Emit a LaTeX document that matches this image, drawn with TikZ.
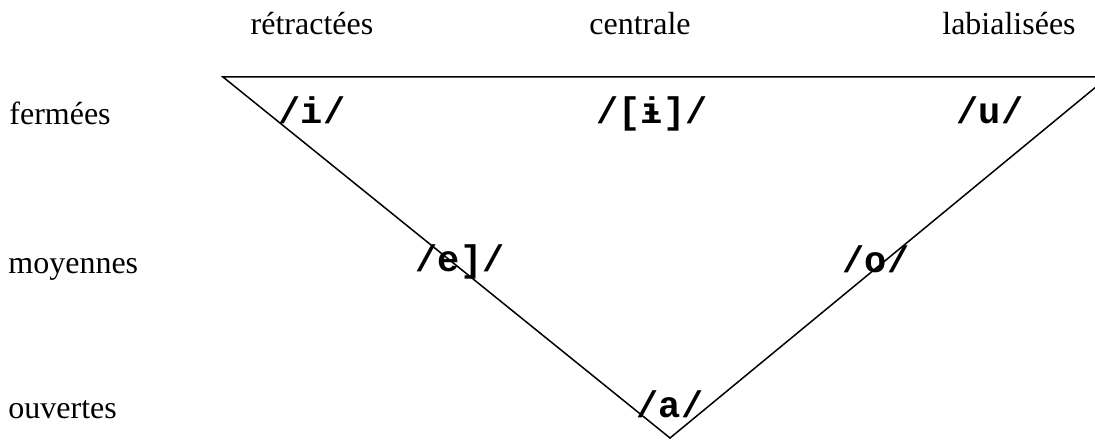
\documentclass[tikz,border=0pt]{standalone}
\usepackage{fontspec}
\setmainfont{Liberation Serif}
\newfontfamily\phonfont{Liberation Mono}
\usetikzlibrary{positioning}

\begin{document}
\begin{tikzpicture}[x=0.5pt, y=-0.5pt,
  axislbl/.style={font=\fontsize{16}{18}\selectfont, inner sep=0pt, anchor=base},
  rowlbl/.style={axislbl, anchor=base west},
  phon/.style={font=\fontsize{18.5}{20}\phonfont\bfseries, inner sep=0pt, anchor=base}
]
  \useasboundingbox (0,0) rectangle (1095,442);
  \clip (0,0) rectangle (1095,442);

  \coordinate (topleft) at (223,77);
  \coordinate (topright) at (1108,77);
  \coordinate (bottom) at (670,438);
  \draw[line width=0.75pt] (topleft) -- (topright) -- (bottom) -- cycle;

  \node[axislbl] (retr) at (312,35) {rétractées};
  \node[axislbl] (centr) at (640,35) {centrale};
  \node[axislbl] (labial) at (1009,35) {labialisées};

  \node[rowlbl] (ferm) at (9,125) {fermées};
  \node[rowlbl] (moy) at (8,274) {moyennes};
  \node[rowlbl] (ouv) at (8,418) {ouvertes};

  \node[phon] (vi) at (312,124) {/i/};
  \node[phon] (vbari) at (652,124) {/[ɨ]/};
  \node[phon] (vu) at (990,124) {/u/};
  \node[phon] (ve) at (460,272) {/e]/};
  \node[phon] (vo) at (876,273) {/o/};
  \node[phon] (va) at (670,417) {/a/};
\end{tikzpicture}
\end{document}
